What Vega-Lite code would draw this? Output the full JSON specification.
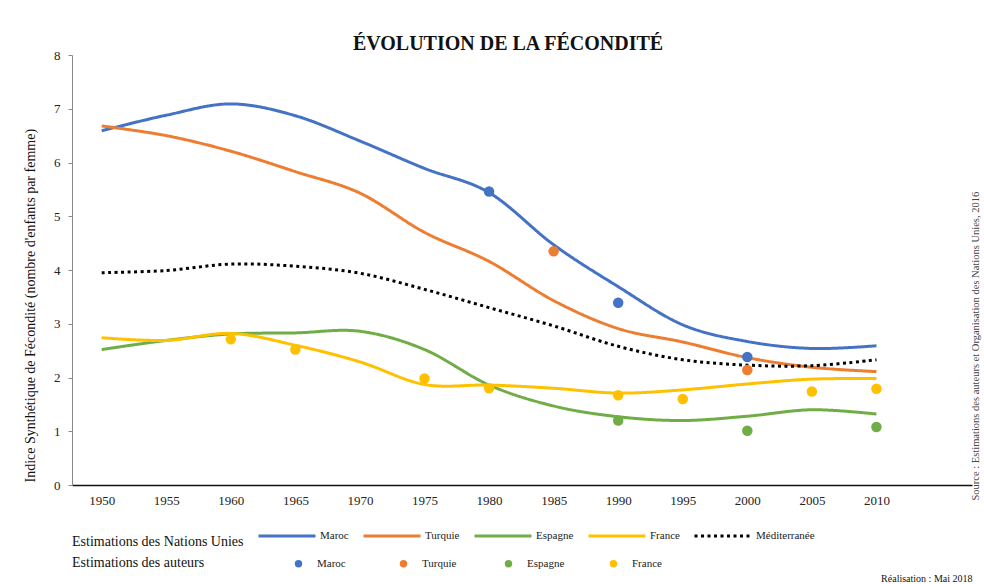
{
  "$schema": "https://vega.github.io/schema/vega-lite/v6.json",
  "width": 900,
  "height": 430,
  "autosize": {"type": "none"},
  "padding": {"left": 72, "top": 55, "right": 12, "bottom": 99},
  "background": "white",
  "view": {"stroke": null},
  "config": {
    "font": "Liberation Serif",
    "axis": {"labelFont": "Liberation Serif", "titleFont": "Liberation Serif", "labelColor": "#222", "titleColor": "#111", "grid": false},
    "legend": {"labelFont": "Liberation Serif", "titleFont": "Liberation Serif"}
  },
  "title": {
    "text": "ÉVOLUTION DE LA FÉCONDITÉ",
    "font": "Liberation Serif",
    "fontSize": 20,
    "fontWeight": "bold",
    "color": "#111",
    "anchor": "middle",
    "frame": "group",
    "dx": -14,
    "offset": -5
  },
  "datasets": {
    "onu": [
      {"annee": 1950, "serie": "Maroc", "valeur": 6.59},
      {"annee": 1955, "serie": "Maroc", "valeur": 6.88},
      {"annee": 1960, "serie": "Maroc", "valeur": 7.09},
      {"annee": 1965, "serie": "Maroc", "valeur": 6.87},
      {"annee": 1970, "serie": "Maroc", "valeur": 6.40},
      {"annee": 1975, "serie": "Maroc", "valeur": 5.89},
      {"annee": 1980, "serie": "Maroc", "valeur": 5.44},
      {"annee": 1985, "serie": "Maroc", "valeur": 4.47},
      {"annee": 1990, "serie": "Maroc", "valeur": 3.69},
      {"annee": 1995, "serie": "Maroc", "valeur": 2.98},
      {"annee": 2000, "serie": "Maroc", "valeur": 2.67},
      {"annee": 2005, "serie": "Maroc", "valeur": 2.54},
      {"annee": 2010, "serie": "Maroc", "valeur": 2.59},
      {"annee": 1950, "serie": "Turquie", "valeur": 6.68},
      {"annee": 1955, "serie": "Turquie", "valeur": 6.50},
      {"annee": 1960, "serie": "Turquie", "valeur": 6.21},
      {"annee": 1965, "serie": "Turquie", "valeur": 5.83},
      {"annee": 1970, "serie": "Turquie", "valeur": 5.43},
      {"annee": 1975, "serie": "Turquie", "valeur": 4.70},
      {"annee": 1980, "serie": "Turquie", "valeur": 4.16},
      {"annee": 1985, "serie": "Turquie", "valeur": 3.43},
      {"annee": 1990, "serie": "Turquie", "valeur": 2.91},
      {"annee": 1995, "serie": "Turquie", "valeur": 2.66},
      {"annee": 2000, "serie": "Turquie", "valeur": 2.37},
      {"annee": 2005, "serie": "Turquie", "valeur": 2.19},
      {"annee": 2010, "serie": "Turquie", "valeur": 2.11},
      {"annee": 1950, "serie": "Espagne", "valeur": 2.52},
      {"annee": 1955, "serie": "Espagne", "valeur": 2.69},
      {"annee": 1960, "serie": "Espagne", "valeur": 2.81},
      {"annee": 1965, "serie": "Espagne", "valeur": 2.83},
      {"annee": 1970, "serie": "Espagne", "valeur": 2.86},
      {"annee": 1975, "serie": "Espagne", "valeur": 2.52},
      {"annee": 1980, "serie": "Espagne", "valeur": 1.86},
      {"annee": 1985, "serie": "Espagne", "valeur": 1.47},
      {"annee": 1990, "serie": "Espagne", "valeur": 1.27},
      {"annee": 1995, "serie": "Espagne", "valeur": 1.20},
      {"annee": 2000, "serie": "Espagne", "valeur": 1.28},
      {"annee": 2005, "serie": "Espagne", "valeur": 1.40},
      {"annee": 2010, "serie": "Espagne", "valeur": 1.32},
      {"annee": 1950, "serie": "France", "valeur": 2.74},
      {"annee": 1955, "serie": "France", "valeur": 2.69},
      {"annee": 1960, "serie": "France", "valeur": 2.82},
      {"annee": 1965, "serie": "France", "valeur": 2.60},
      {"annee": 1970, "serie": "France", "valeur": 2.29},
      {"annee": 1975, "serie": "France", "valeur": 1.87},
      {"annee": 1980, "serie": "France", "valeur": 1.86},
      {"annee": 1985, "serie": "France", "valeur": 1.80},
      {"annee": 1990, "serie": "France", "valeur": 1.71},
      {"annee": 1995, "serie": "France", "valeur": 1.77},
      {"annee": 2000, "serie": "France", "valeur": 1.88},
      {"annee": 2005, "serie": "France", "valeur": 1.97},
      {"annee": 2010, "serie": "France", "valeur": 1.98},
      {"annee": 1950, "serie": "Méditerranée", "valeur": 3.95},
      {"annee": 1955, "serie": "Méditerranée", "valeur": 3.99},
      {"annee": 1960, "serie": "Méditerranée", "valeur": 4.11},
      {"annee": 1965, "serie": "Méditerranée", "valeur": 4.07},
      {"annee": 1970, "serie": "Méditerranée", "valeur": 3.94},
      {"annee": 1975, "serie": "Méditerranée", "valeur": 3.64},
      {"annee": 1980, "serie": "Méditerranée", "valeur": 3.30},
      {"annee": 1985, "serie": "Méditerranée", "valeur": 2.96},
      {"annee": 1990, "serie": "Méditerranée", "valeur": 2.58},
      {"annee": 1995, "serie": "Méditerranée", "valeur": 2.33},
      {"annee": 2000, "serie": "Méditerranée", "valeur": 2.23},
      {"annee": 2005, "serie": "Méditerranée", "valeur": 2.22},
      {"annee": 2010, "serie": "Méditerranée", "valeur": 2.33}
    ],
    "auteurs": [
      {"annee": 1980, "pays": "Maroc", "valeur": 5.46},
      {"annee": 1990, "pays": "Maroc", "valeur": 3.39},
      {"annee": 2000, "pays": "Maroc", "valeur": 2.38},
      {"annee": 1985, "pays": "Turquie", "valeur": 4.35},
      {"annee": 2000, "pays": "Turquie", "valeur": 2.14},
      {"annee": 1990, "pays": "Espagne", "valeur": 1.20},
      {"annee": 2000, "pays": "Espagne", "valeur": 1.01},
      {"annee": 2010, "pays": "Espagne", "valeur": 1.08},
      {"annee": 1960, "pays": "France", "valeur": 2.71},
      {"annee": 1965, "pays": "France", "valeur": 2.52},
      {"annee": 1975, "pays": "France", "valeur": 1.98},
      {"annee": 1980, "pays": "France", "valeur": 1.80},
      {"annee": 1990, "pays": "France", "valeur": 1.67},
      {"annee": 1995, "pays": "France", "valeur": 1.60},
      {"annee": 2005, "pays": "France", "valeur": 1.74},
      {"annee": 2010, "pays": "France", "valeur": 1.79}
    ]
  },
  "resolve": {"scale": {"y": "independent"}},
  "layer": [
    {
      "data": {"name": "onu"},
      "mark": {"type": "line", "interpolate": "cardinal", "strokeWidth": 3, "strokeCap": "butt"},
      "encoding": {
        "x": {
          "field": "annee", "type": "quantitative",
          "scale": {"domain": [1947.7, 2017.4], "nice": false, "zero": false},
          "axis": {
            "values": [1950, 1955, 1960, 1965, 1970, 1975, 1980, 1985, 1990, 1995, 2000, 2005, 2010],
            "format": "d", "ticks": false, "labelPadding": 9, "labelFontSize": 13,
            "domainColor": "#111", "domainWidth": 1.5,
            "title": "Réalisation : Mai 2018", "titleFontSize": 10, "titleFontWeight": "normal",
            "titleAnchor": "end", "titleAlign": "right", "titleX": 900, "titleY": 98, "titleBaseline": "bottom"
          }
        },
        "y": {
          "field": "valeur", "type": "quantitative",
          "scale": {"domain": [0, 8], "nice": false},
          "axis": {
            "values": [0, 1, 2, 3, 4, 5, 6, 7, 8], "tickSize": 4, "tickColor": "#888", "domainColor": "#888",
            "labelPadding": 8, "labelFontSize": 13,
            "title": "Indice Synthétique de Fécondité (nombre d'enfants par femme)",
            "titleFontSize": 14, "titleFontWeight": "normal", "titlePadding": 16,
            "titleY": 427, "titleAlign": "left"
          }
        },
        "stroke": {
          "field": "serie", "type": "nominal",
          "scale": {"domain": ["Maroc", "Turquie", "Espagne", "France", "Méditerranée"], "range": ["#4472C4", "#ED7D31", "#70AD47", "#FFC000", "#000000"]},
          "legend": {
            "title": "Estimations des Nations Unies", "orient": "none", "legendX": 0, "legendY": 451,
            "direction": "horizontal", "columns": 5, "gridAlign": "each", "columnPadding": 8,
            "titleOrient": "left", "titleAnchor": "end", "titleBaseline": "middle",
            "titleFontSize": 14, "titleFontWeight": "normal", "titleColor": "#111", "titlePadding": 13,
            "symbolType": "stroke", "symbolSize": 3249, "symbolStrokeWidth": 3, "labelOffset": 3,
            "labelFontSize": 11, "labelColor": "#222", "padding": 0
          }
        },
        "strokeDash": {
          "field": "serie", "type": "nominal",
          "scale": {"domain": ["Maroc", "Turquie", "Espagne", "France", "Méditerranée"], "range": [[1, 0], [1, 0], [1, 0], [1, 0], [3, 3.5]]},
          "legend": {
            "title": "Estimations des Nations Unies", "orient": "none", "legendX": 0, "legendY": 451,
            "direction": "horizontal", "columns": 5, "gridAlign": "each", "columnPadding": 8,
            "titleOrient": "left", "titleAnchor": "end", "titleBaseline": "middle",
            "titleFontSize": 14, "titleFontWeight": "normal", "titleColor": "#111", "titlePadding": 13,
            "symbolType": "stroke", "symbolSize": 3249, "symbolStrokeWidth": 3, "labelOffset": 3,
            "labelFontSize": 11, "labelColor": "#222", "padding": 0
          }
        }
      }
    },
    {
      "data": {"name": "auteurs"},
      "mark": {"type": "circle", "size": 110, "opacity": 1},
      "encoding": {
        "x": {"field": "annee", "type": "quantitative"},
        "y": {
          "field": "valeur", "type": "quantitative",
          "scale": {"domain": [0, 8], "nice": false},
          "axis": {
            "orient": "right", "labels": false, "ticks": false, "domain": false,
            "title": "Source : Estimations des auteurs et Organisation des Nations Unies, 2016",
            "titleFontSize": 10.5, "titleFontWeight": "normal", "titleColor": "#444",
            "titleAngle": 270, "titlePadding": 8, "titleY": 445, "titleAlign": "left"
          }
        },
        "fill": {
          "field": "pays", "type": "nominal",
          "scale": {"domain": ["Maroc", "Turquie", "Espagne", "France"], "range": ["#4472C4", "#ED7D31", "#70AD47", "#FFC000"]},
          "legend": {
            "title": "Estimations des auteurs", "orient": "none", "legendX": 0, "legendY": 503,
            "direction": "horizontal", "columns": 4, "gridAlign": "all", "columnPadding": 43,
            "titleOrient": "left", "titleAnchor": "middle", "titleBaseline": "middle",
            "titleFontSize": 14, "titleFontWeight": "normal", "titleColor": "#111", "titlePadding": 88,
            "symbolType": "circle", "symbolSize": 55, "symbolStrokeWidth": 0, "labelOffset": 13,
            "labelFontSize": 11, "labelColor": "#222", "padding": 0
          }
        }
      }
    }
  ]
}
